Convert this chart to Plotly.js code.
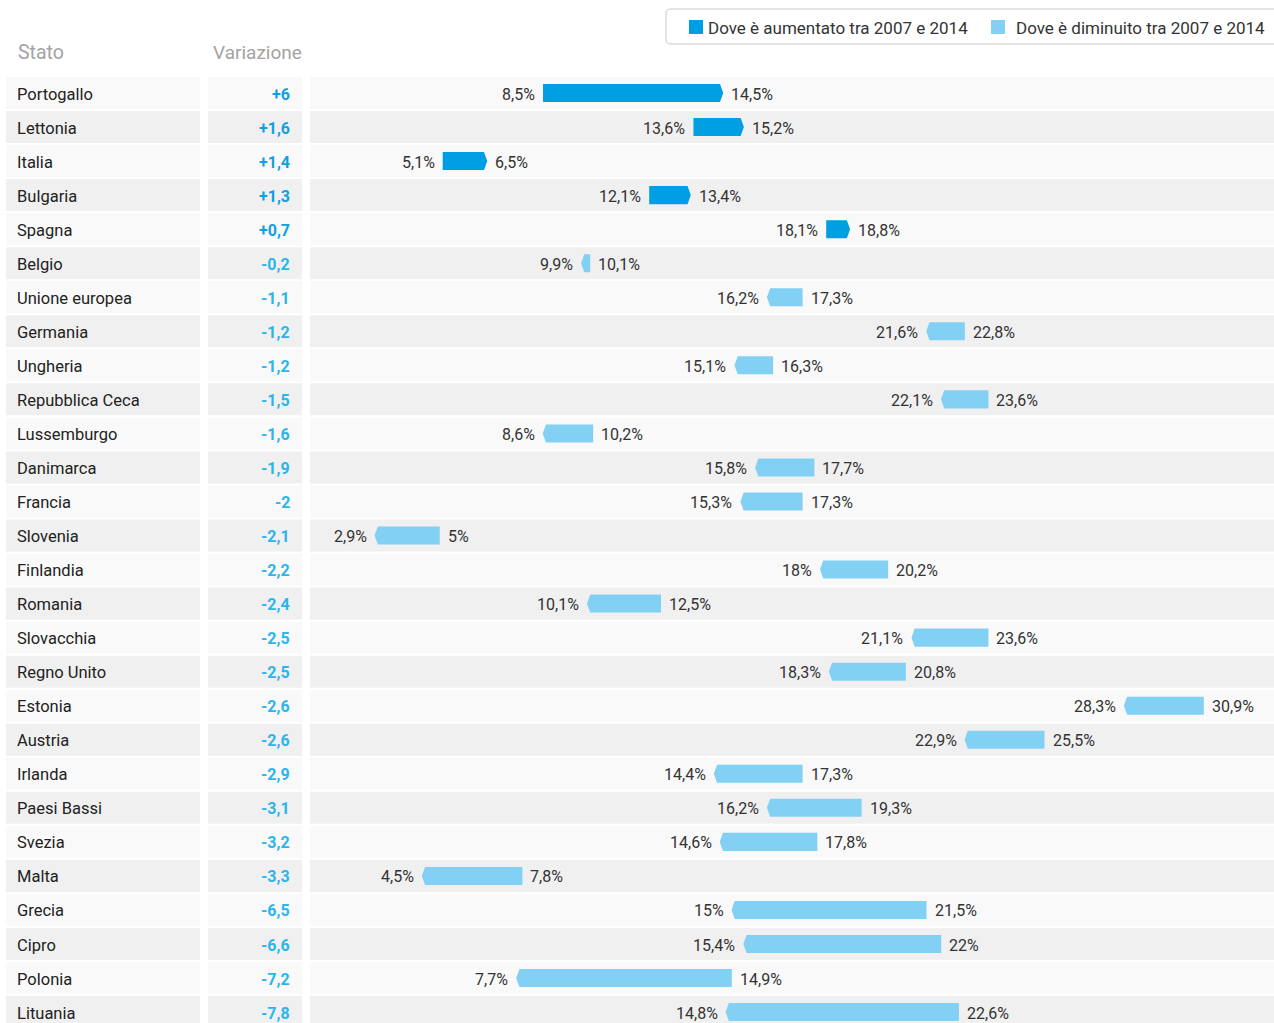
<!DOCTYPE html>
<html>
<head>
<meta charset="utf-8">
<script src="https://cdn.plot.ly/plotly-3.0.1.min.js"></script>
<style>
  html, body { margin: 0; padding: 0; background: #ffffff; }
  #chart { width: 1274px; height: 1023px; }
</style>
</head>
<body>
<div id="chart"></div>
<script>
// ---------------- DATA ----------------
const countries = [
  "Portogallo", "Lettonia", "Italia", "Bulgaria", "Spagna", "Belgio",
  "Unione europea", "Germania", "Ungheria", "Repubblica Ceca", "Lussemburgo",
  "Danimarca", "Francia", "Slovenia", "Finlandia", "Romania", "Slovacchia",
  "Regno Unito", "Estonia", "Austria", "Irlanda", "Paesi Bassi", "Svezia",
  "Malta", "Grecia", "Cipro", "Polonia", "Lituania"
];
const val2007 = [
  8.5, 13.6, 5.1, 12.1, 18.1, 10.1,
  17.3, 22.8, 16.3, 23.6, 10.2,
  17.7, 17.3, 5.0, 20.2, 12.5, 23.6,
  20.8, 30.9, 25.5, 17.3, 19.3, 17.8,
  7.8, 21.5, 22.0, 14.9, 22.6
];
const val2014 = [
  14.5, 15.2, 6.5, 13.4, 18.8, 9.9,
  16.2, 21.6, 15.1, 22.1, 8.6,
  15.8, 15.3, 2.9, 18.0, 10.1, 21.1,
  18.3, 28.3, 22.9, 14.4, 16.2, 14.6,
  4.5, 15.0, 15.4, 7.7, 14.8
];
const variazione = [
  6, 1.6, 1.4, 1.3, 0.7, -0.2,
  -1.1, -1.2, -1.2, -1.5, -1.6,
  -1.9, -2, -2.1, -2.2, -2.4, -2.5,
  -2.5, -2.6, -2.6, -2.9, -3.1, -3.2,
  -3.3, -6.5, -6.6, -7.2, -7.8
];
const seriesNames = ["Dove è aumentato tra 2007 e 2014", "Dove è diminuito tra 2007 e 2014"];
const headers = ["Stato", "Variazione"];

// ---------------- STYLE ----------------
const W = 1274, H = 1023;
const FONT = "Roboto, 'Open Sans', sans-serif";
const COL_UP = "#009fe3";
const COL_DOWN = "#83d0f5";
const TXT_UP = "#129fdf";
const TXT_DOWN = "#2cb5ea";
const px = v => v / W;
const py = v => 1 - v / H;

const HALF = 0.265;   // half bar height in row units
const TIP = 0.11;     // arrow tip depth in % units
const GAP = 8;        // label gap in px
const YS = -1;        // text vertical nudge

function fmt(v) {
  return (Math.round(v * 10) / 10).toString().replace('.', ',');
}

// ---------------- TRACES ----------------
const upX = [], upY = [], dnX = [], dnY = [];
countries.forEach((c, i) => {
  const a = val2007[i], b = val2014[i];
  if (b >= a) {
    upX.push(a, b, b + TIP, b, a, a, null);
    upY.push(i - HALF, i - HALF, i, i + HALF, i + HALF, i - HALF, null);
  } else {
    dnX.push(b, a, a, b, b - TIP, b, null);
    dnY.push(i - HALF, i - HALF, i + HALF, i + HALF, i, i - HALF, null);
  }
});

const traces = [
  { type: "scatter", mode: "lines", x: upX, y: upY, fill: "toself",
    fillcolor: COL_UP, line: { width: 0, color: COL_UP }, name: seriesNames[0],
    hoverinfo: "skip", showlegend: false },
  { type: "scatter", mode: "lines", x: dnX, y: dnY, fill: "toself",
    fillcolor: COL_DOWN, line: { width: 0, color: COL_DOWN }, name: seriesNames[1],
    hoverinfo: "skip", showlegend: false }
];

// ---------------- SHAPES ----------------
const shapes = [];
countries.forEach((c, i) => {
  const fill = (i % 2 === 0) ? "#f9f9f9" : "#f0f0f0";
  [[6, 200], [208, 302], [310, 1274]].forEach(([l, r]) => {
    shapes.push({ type: "rect", xref: "paper", yref: "y", layer: "below",
      x0: px(l), x1: px(r), y0: i - 0.47, y1: i + 0.47,
      fillcolor: fill, line: { width: 0 } });
  });
});

// legend box (rounded)
(function () {
  const x0 = 666, x1 = 1290, y0 = 9, y1 = 44, r = 5;
  const p = `M ${px(x0 + r)},${py(y0)} L ${px(x1)},${py(y0)} L ${px(x1)},${py(y1)} ` +
    `L ${px(x0 + r)},${py(y1)} Q ${px(x0)},${py(y1)} ${px(x0)},${py(y1 - r)} ` +
    `L ${px(x0)},${py(y0 + r)} Q ${px(x0)},${py(y0)} ${px(x0 + r)},${py(y0)} Z`;
  shapes.push({ type: "path", xref: "paper", yref: "paper", path: p,
    fillcolor: "rgba(255,255,255,0)", line: { color: "#c8c8c8", width: 1 } });
})();
shapes.push({ type: "rect", xref: "paper", yref: "paper",
  x0: px(689), x1: px(703), y0: py(34), y1: py(20), fillcolor: COL_UP, line: { width: 0 } });
shapes.push({ type: "rect", xref: "paper", yref: "paper",
  x0: px(991), x1: px(1005), y0: py(34), y1: py(20), fillcolor: COL_DOWN, line: { width: 0 } });

// ---------------- ANNOTATIONS ----------------
const ann = [];
const base = { showarrow: false, borderpad: 0, borderwidth: 0 };
// headers
ann.push(Object.assign({}, base, { text: headers[0], xref: "paper", yref: "paper",
  x: px(18), y: py(53), xanchor: "left", yanchor: "middle",
  font: { family: FONT, size: 19.5, color: "#a3a3a3" } }));
ann.push(Object.assign({}, base, { text: headers[1], xref: "paper", yref: "paper",
  x: px(302), y: py(53), xanchor: "right", yanchor: "middle",
  font: { family: FONT, size: 19, color: "#a3a3a3" } }));
// legend text
ann.push(Object.assign({}, base, { text: seriesNames[0], xref: "paper", yref: "paper",
  x: px(708), y: py(28), xanchor: "left", yanchor: "middle",
  font: { family: FONT, size: 17, color: "#333" } }));
ann.push(Object.assign({}, base, { text: seriesNames[1], xref: "paper", yref: "paper",
  x: px(1016), y: py(28), xanchor: "left", yanchor: "middle",
  font: { family: FONT, size: 17, color: "#333" } }));

countries.forEach((c, i) => {
  const a = val2007[i], b = val2014[i];
  const up = b >= a;
  const lo = Math.min(a, b), hi = Math.max(a, b);
  ann.push(Object.assign({}, base, { text: c, xref: "paper", yref: "y",
    x: px(17), y: i, yshift: YS, xanchor: "left", yanchor: "middle",
    font: { family: FONT, size: 16.5, color: "#222" } }));
  const v = variazione[i];
  ann.push(Object.assign({}, base, { text: "<b>" + (v > 0 ? "+" : "") + fmt(v) + "</b>",
    xref: "paper", yref: "y", x: px(290), y: i, yshift: YS, xanchor: "right", yanchor: "middle",
    font: { family: FONT, size: 16, color: v > 0 ? TXT_UP : TXT_DOWN } }));
  const tipPx = TIP * 29.5;
  ann.push(Object.assign({}, base, { text: fmt(lo) + "%", xref: "x", yref: "y",
    x: lo, y: i, yshift: YS, xanchor: "right", yanchor: "middle",
    xshift: -(GAP + (up ? 0 : tipPx)),
    font: { family: FONT, size: 16, color: "#333" } }));
  ann.push(Object.assign({}, base, { text: fmt(hi) + "%", xref: "x", yref: "y",
    x: hi, y: i, yshift: YS, xanchor: "left", yanchor: "middle",
    xshift: GAP + (up ? tipPx : 0),
    font: { family: FONT, size: 16, color: "#333" } }));
});

// ---------------- LAYOUT ----------------
const layout = {
  width: W, height: H,
  margin: { l: 0, r: 0, t: 0, b: 0, pad: 0 },
  paper_bgcolor: "#ffffff", plot_bgcolor: "rgba(0,0,0,0)",
  showlegend: false,
  font: { family: FONT, size: 16, color: "#222" },
  xaxis: { domain: [0, 1], range: [-292.25 / 29.5, (W - 292.25) / 29.5],
    visible: false, fixedrange: true, showgrid: false, zeroline: false },
  yaxis: { domain: [0, 1], range: [(H - 93) / 34.04, -93 / 34.04],
    visible: false, fixedrange: true, showgrid: false, zeroline: false },
  shapes: shapes,
  annotations: ann
};

Plotly.newPlot("chart", traces, layout, { displayModeBar: false, staticPlot: true });
</script>
</body>
</html>
